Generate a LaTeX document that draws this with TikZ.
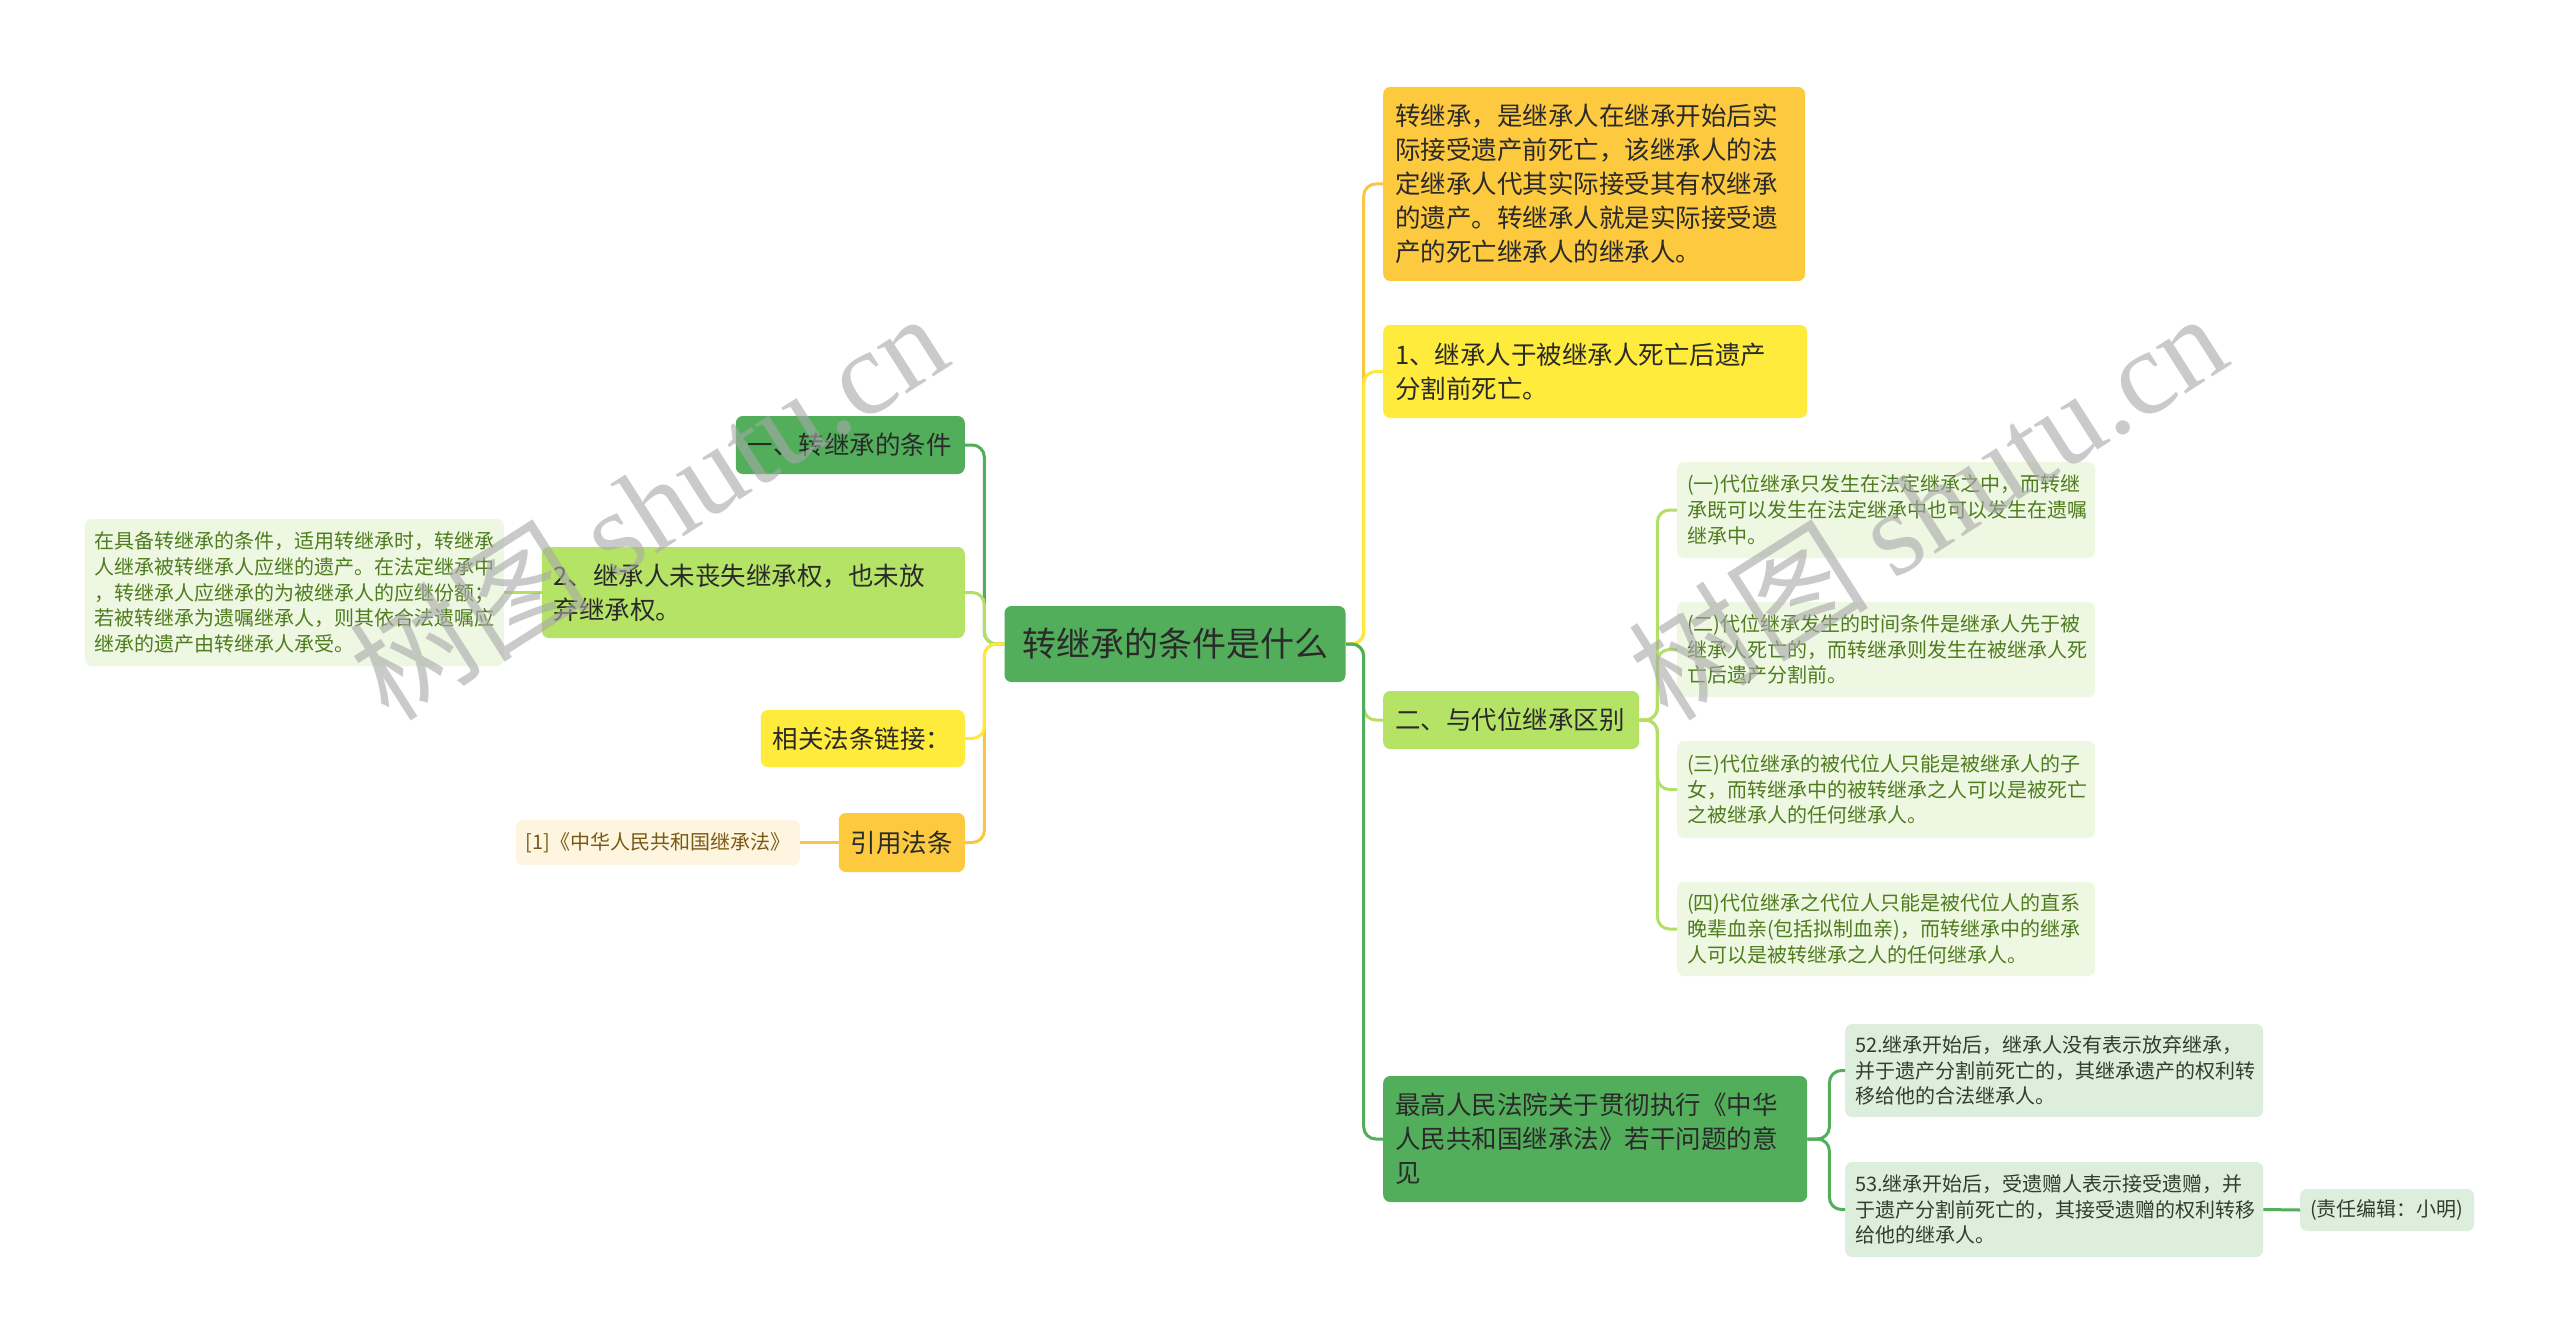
\documentclass[tikz,border=0pt]{standalone}
\usepackage{fontspec}
\setmainfont{Noto Sans CJK SC}
\newfontfamily\wmserif{Liberation Serif}
\definecolor{cRoot}{HTML}{52AE5B}
\definecolor{cOrange}{HTML}{FDC93F}
\definecolor{cYellow}{HTML}{FFEB3B}
\definecolor{cLight}{HTML}{B5E366}
\definecolor{cPale}{HTML}{EEF7E2}
\definecolor{cPaleD}{HTML}{DDEFDC}
\definecolor{cCream}{HTML}{FDF5E0}
\definecolor{tDark}{HTML}{2A2A2A}
\definecolor{tOlive}{HTML}{4E7C1E}
\definecolor{tBrown}{HTML}{7A5A12}
\definecolor{tGreenGray}{HTML}{2F3F2F}
\definecolor{lnOrange}{HTML}{F7C744}
\definecolor{lnYellow}{HTML}{FFE83A}
\definecolor{lnLight}{HTML}{B3E064}
\definecolor{lnGreen}{HTML}{52AE5B}
\definecolor{wmGray}{HTML}{A8A8A8}
\tikzset{
  nd/.style={rounded corners=7, inner xsep=12, inner ysep=0, align=left,
    font={\fontsize{25.5}{34}\selectfont}, text=tDark},
  sm/.style={rounded corners=7, inner xsep=10, inner ysep=0, align=left,
    font={\fontsize{20}{25.7}\selectfont}},
  cn/.style={line width=3, rounded corners=12},
  wm/.style={text=wmGray, text opacity=0.6, font={\fontsize{120}{130}\selectfont}, inner sep=0}
}
\begin{document}
\begin{tikzpicture}[x=1pt,y=-1pt]
\useasboundingbox (0,0) rectangle (2560,1343);
\fill[white] (0,0) rectangle (2560,1343);

% root
\node[rounded corners=7, fill=cRoot, minimum width=341, minimum height=76, inner sep=0,
  font={\fontsize{34}{44}\selectfont}, text=tDark] (root) at (1175,644) {转继承的条件是什么};

% right main branches
\node[nd, fill=cOrange, anchor=west, text width=398, minimum height=194] (A) at (1383,184)
 {转继承，是继承人在继承开始后实\\际接受遗产前死亡，该继承人的法\\定继承人代其实际接受其有权继承\\的遗产。转继承人就是实际接受遗\\产的死亡继承人的继承人。};
\node[nd, fill=cYellow, anchor=west, text width=400, minimum height=93] (B) at (1383,371.5)
 {1、继承人于被继承人死亡后遗产\\分割前死亡。};
\node[nd, fill=cLight, anchor=west, text width=232, minimum height=58] (C) at (1383,720)
 {二、与代位继承区别};
\node[nd, fill=cRoot, anchor=west, text width=400, minimum height=126] (D) at (1383,1139)
 {最高人民法院关于贯彻执行《中华\\人民共和国继承法》若干问题的意\\见};

% C children
\node[sm, fill=cPale, text=tOlive, anchor=west, text width=398, minimum height=96] (C1) at (1677,510)
 {(一)代位继承只发生在法定继承之中，而转继\\承既可以发生在法定继承中也可以发生在遗嘱\\继承中。};
\node[sm, fill=cPale, text=tOlive, anchor=west, text width=398, minimum height=95] (C2) at (1677,649.5)
 {(二)代位继承发生的时间条件是继承人先于被\\继承人死亡的，而转继承则发生在被继承人死\\亡后遗产分割前。};
\node[sm, fill=cPale, text=tOlive, anchor=west, text width=398, minimum height=97] (C3) at (1677,789.5)
 {(三)代位继承的被代位人只能是被继承人的子\\女，而转继承中的被转继承之人可以是被死亡\\之被继承人的任何继承人。};
\node[sm, fill=cPale, text=tOlive, anchor=west, text width=398, minimum height=94] (C4) at (1677,929)
 {(四)代位继承之代位人只能是被代位人的直系\\晚辈血亲(包括拟制血亲)，而转继承中的继承\\人可以是被转继承之人的任何继承人。};

% D children
\node[sm, fill=cPaleD, text=tGreenGray, anchor=west, text width=398, minimum height=93] (D1) at (1845,1070.5)
 {52.继承开始后，继承人没有表示放弃继承，\\并于遗产分割前死亡的，其继承遗产的权利转\\移给他的合法继承人。};
\node[sm, fill=cPaleD, text=tGreenGray, anchor=west, text width=398, minimum height=95] (D2) at (1845,1209.5)
 {53.继承开始后，受遗赠人表示接受遗赠，并\\于遗产分割前死亡的，其接受遗赠的权利转移\\给他的继承人。};
\node[sm, fill=cPaleD, text=tGreenGray, anchor=west, text width=154, minimum height=42] (E) at (2300,1210)
 {(责任编辑：小明)};

% left branches
\node[nd, fill=cRoot, anchor=east, text width=205, minimum height=58] (L1) at (965,445)
 {一、转继承的条件};
\node[nd, fill=cLight, anchor=east, text width=399, minimum height=91] (L2) at (965,592.5)
 {2、继承人未丧失继承权，也未放\\弃继承权。};
\node[nd, fill=cYellow, anchor=east, text width=180, minimum height=57] (L3) at (965,738.5)
 {相关法条链接：};
\node[nd, fill=cOrange, anchor=east, text width=102, minimum height=59] (L4) at (965,842.5)
 {引用法条};
\node[sm, fill=cPale, text=tOlive, anchor=east, text width=399, minimum height=147] (L2c) at (504,592.5)
 {在具备转继承的条件，适用转继承时，转继承\\人继承被转继承人应继的遗产。在法定继承中\\，转继承人应继承的为被继承人的应继份额；\\若被转继承为遗嘱继承人，则其依合法遗嘱应\\继承的遗产由转继承人承受。};
\node[sm, fill=cCream, text=tBrown, anchor=east, text width=264, minimum height=45] (L4c) at (800,842.5)
 {[1]《中华人民共和国继承法》};

% connectors right
\draw[cn, lnOrange] (root.east) -- ++(18,0) |- (A.west);
\draw[cn, lnYellow] (root.east) -- ++(18,0) |- (B.west);
\draw[cn, lnLight] (root.east) -- ++(18,0) |- (C.west);
\draw[cn, lnGreen] (root.east) -- ++(18,0) |- (D.west);
\foreach \n in {C1,C2,C3,C4}{\draw[cn, lnLight] (C.east) -- ++(18,0) |- (\n.west);}
\foreach \n in {D1,D2}{\draw[cn, lnGreen] (D.east) -- ++(22,0) |- (\n.west);}
\draw[cn, lnGreen] (D2.east) -- (E.west);

% connectors left
\draw[cn, lnGreen] (root.west) -- ++(-20,0) |- (L1.east);
\draw[cn, lnLight] (root.west) -- ++(-20,0) |- (L2.east);
\draw[cn, lnOrange] (root.west) -- ++(-20,0) |- (L4.east);
\draw[cn, lnYellow] (root.west) -- ++(-20,0) |- (L3.east);
\draw[cn, lnLight] (L2.west) -- (L2c.east);
\draw[cn, lnOrange] (L4.west) -- (L4c.east);

% watermarks
\node[wm, rotate=32.5] (wm1) at (648,505) {树图 {\wmserif shutu.cn}};
\node[wm, rotate=32.5] (wm2) at (1927,505) {树图 {\wmserif shutu.cn}};
\end{tikzpicture}
\end{document}
